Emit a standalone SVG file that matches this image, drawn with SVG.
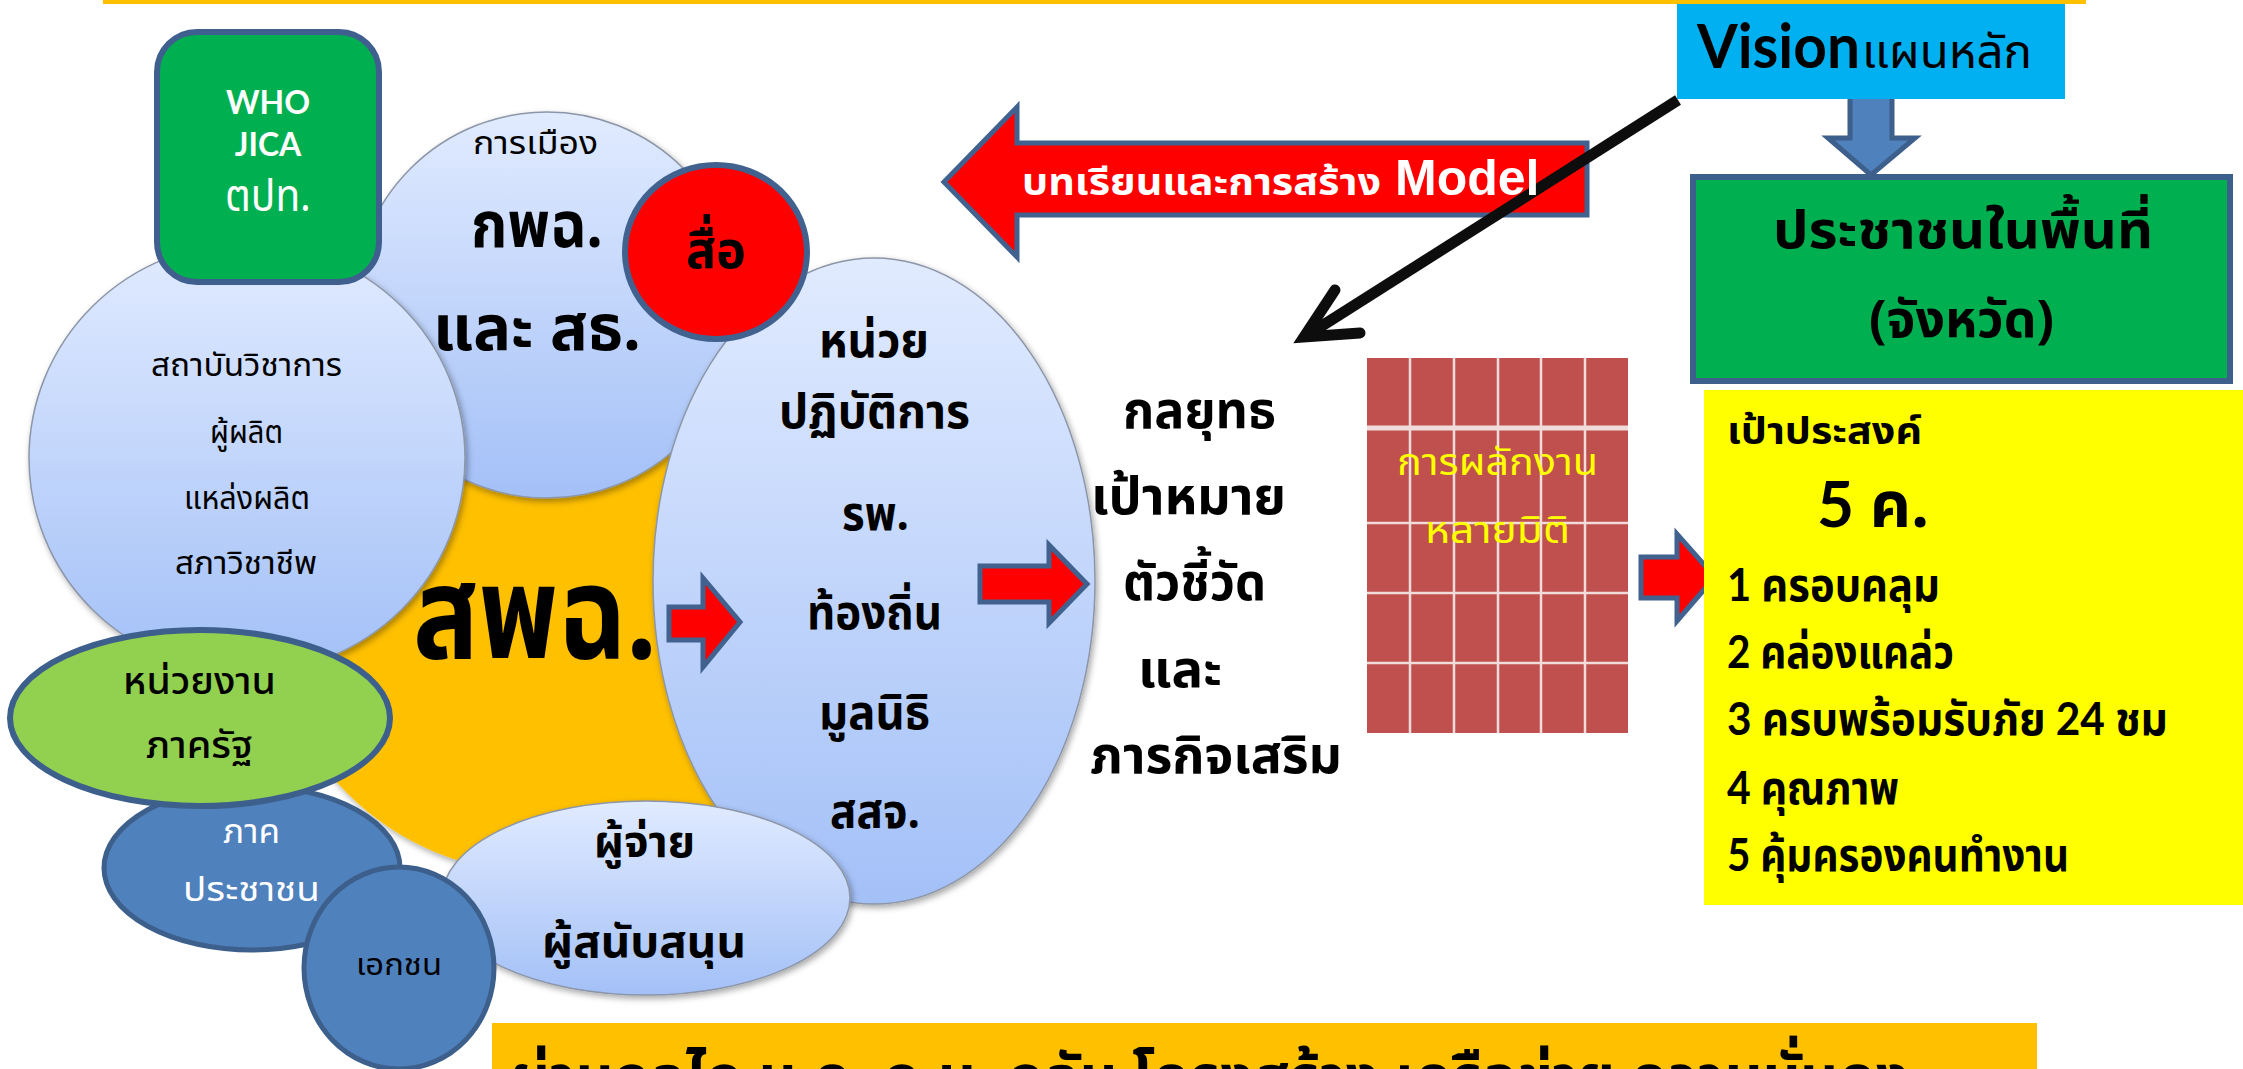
<svg xmlns="http://www.w3.org/2000/svg" width="2243" height="1069" viewBox="0 0 2243 1069">
<defs>
  <linearGradient id="lbg" x1="0" y1="0" x2="0" y2="1">
    <stop offset="0" stop-color="#E1EBFF"/>
    <stop offset="1" stop-color="#A3C0F7"/>
  </linearGradient>
  <filter id="sh" x="-10%" y="-10%" width="120%" height="120%">
    <feDropShadow dx="2" dy="3" stdDeviation="3" flood-color="#000" flood-opacity="0.35"/>
  </filter>
</defs>
<style>
  .th { font-family: "Noto Sans Thai", "Noto Sans Thai UI", "Noto Sans", "DejaVu Sans", sans-serif; }
  .mix { font-family: "Lato", "Noto Sans Thai", "Noto Sans", sans-serif; }
  .arl { font-family: "Liberation Sans", "Noto Sans Thai", "Noto Sans", sans-serif; }
  .b { font-weight: bold; }
  .lb { fill: url(#lbg); stroke: #8C96A8; stroke-width: 1.5; filter: url(#sh); }
  .blue { fill: #4F81BD; stroke: #3D5F8C; stroke-width: 5; }
  .redarrow { fill: #FF0000; stroke: #41618F; stroke-width: 5; stroke-linejoin: miter; }
  .cells line { stroke: #F0DCDB; stroke-width: 2.5; }
</style>

<rect id="topline" x="103" y="0" width="1983" height="4" fill="#FFC000"/>

<g id="node-spc">
  <circle cx="540" cy="600" r="273" fill="#FFC000" filter="url(#sh)"/>
</g>
<g id="node-politics">
  <circle class="lb" cx="547" cy="305" r="193"/>
  <text class="th" x="473" y="154" font-size="32" textLength="125" lengthAdjust="spacingAndGlyphs">การเมือง</text>
  <text class="th b" x="471" y="247" font-size="64" textLength="132" lengthAdjust="spacingAndGlyphs">กพฉ.</text>
  <text class="th b" x="433" y="350" font-size="64" textLength="208" lengthAdjust="spacingAndGlyphs">และ สธ.</text>
</g>
<g id="node-academic">
  <ellipse class="lb" cx="247" cy="458" rx="218" ry="215"/>
  <text class="th" x="151" y="376" font-size="32" textLength="191" lengthAdjust="spacingAndGlyphs">สถาบันวิชาการ</text>
  <text class="th" x="210" y="443" font-size="32" textLength="73" lengthAdjust="spacingAndGlyphs">ผู้ผลิต</text>
  <text class="th" x="184" y="509" font-size="32" textLength="126" lengthAdjust="spacingAndGlyphs">แหล่งผลิต</text>
  <text class="th" x="175" y="574" font-size="32" textLength="142" lengthAdjust="spacingAndGlyphs">สภาวิชาชีพ</text>
</g>
<g id="node-operating">
  <ellipse class="lb" cx="874" cy="581" rx="221" ry="323"/>
  <text class="th b" x="819" y="357" font-size="48" textLength="110" lengthAdjust="spacingAndGlyphs">หน่วย</text>
  <text class="th b" x="779" y="428" font-size="48" textLength="191" lengthAdjust="spacingAndGlyphs">ปฏิบัติการ</text>
  <text class="th b" x="842" y="530" font-size="48" textLength="67" lengthAdjust="spacingAndGlyphs">รพ.</text>
  <text class="th b" x="807" y="629" font-size="48" textLength="135" lengthAdjust="spacingAndGlyphs">ท้องถิ่น</text>
  <text class="th b" x="819" y="729" font-size="48" textLength="111" lengthAdjust="spacingAndGlyphs">มูลนิธิ</text>
  <text class="th b" x="830" y="828" font-size="48" textLength="90" lengthAdjust="spacingAndGlyphs">สสจ.</text>
</g>
<g id="node-spc-label">
  <text class="th b" x="413" y="658" font-size="130" textLength="244" lengthAdjust="spacingAndGlyphs">สพฉ.</text>
</g>
<g id="node-intl">
  <rect x="157" y="32" width="222" height="250" rx="40" fill="#00B050" stroke="#3F5F8F" stroke-width="6"/>
  <text class="mix b" x="268" y="114" font-size="32" fill="#FFFFFF" text-anchor="middle">WHO</text>
  <text class="mix b" x="268" y="156" font-size="32" fill="#FFFFFF" text-anchor="middle">JICA</text>
  <text class="th" x="225" y="211" font-size="44" fill="#FFFFFF" textLength="86" lengthAdjust="spacingAndGlyphs">ตปท.</text>
</g>
<g id="node-media">
  <ellipse cx="716" cy="252" rx="91" ry="87" fill="#FF0000" stroke="#41618F" stroke-width="6"/>
  <text class="th b" x="686" y="268" font-size="52" textLength="60" lengthAdjust="spacingAndGlyphs">สื่อ</text>
</g>
<g id="node-payer">
  <ellipse class="lb" cx="646" cy="898" rx="204" ry="97"/>
  <text class="th b" x="594" y="857" font-size="44" textLength="101" lengthAdjust="spacingAndGlyphs">ผู้จ่าย</text>
  <text class="th b" x="542" y="957" font-size="44" textLength="204" lengthAdjust="spacingAndGlyphs">ผู้สนับสนุน</text>
</g>
<g id="node-public">
  <ellipse class="blue" cx="252" cy="868" rx="148" ry="82"/>
  <text class="th" x="223" y="843" font-size="34" fill="#FFFFFF" textLength="57" lengthAdjust="spacingAndGlyphs">ภาค</text>
  <text class="th" x="183" y="901" font-size="34" fill="#FFFFFF" textLength="137" lengthAdjust="spacingAndGlyphs">ประชาชน</text>
</g>
<g id="node-gov">
  <ellipse cx="200" cy="718" rx="190" ry="88" fill="#92D050" stroke="#3D5F8C" stroke-width="6"/>
  <text class="th" x="123" y="694" font-size="38" font-weight="500" textLength="153" lengthAdjust="spacingAndGlyphs">หน่วยงาน</text>
  <text class="th" x="146" y="758" font-size="38" font-weight="500" textLength="107" lengthAdjust="spacingAndGlyphs">ภาครัฐ</text>
</g>
<g id="node-private">
  <ellipse class="blue" cx="399" cy="968" rx="95" ry="101"/>
  <text class="th" x="356" y="975" font-size="30" textLength="86" lengthAdjust="spacingAndGlyphs">เอกชน</text>
</g>

<g id="node-strategy">
  <text class="th b" x="1123" y="428" font-size="52" textLength="153" lengthAdjust="spacingAndGlyphs">กลยุทธ</text>
  <text class="th b" x="1091" y="514" font-size="52" textLength="195" lengthAdjust="spacingAndGlyphs">เป้าหมาย</text>
  <text class="th b" x="1123" y="600" font-size="52" textLength="143" lengthAdjust="spacingAndGlyphs">ตัวชี้วัด</text>
  <text class="th b" x="1138" y="687" font-size="52" textLength="84" lengthAdjust="spacingAndGlyphs">และ</text>
  <text class="th b" x="1090" y="773" font-size="52" textLength="252" lengthAdjust="spacingAndGlyphs">ภารกิจเสริม</text>
</g>

<g id="node-grid">
  <rect x="1367" y="358" width="261" height="375" fill="#C0504D"/>
  <g class="cells">
    <line x1="1410" y1="358" x2="1410" y2="733"/>
    <line x1="1454" y1="358" x2="1454" y2="733"/>
    <line x1="1498" y1="358" x2="1498" y2="733"/>
    <line x1="1541" y1="358" x2="1541" y2="733"/>
    <line x1="1585" y1="358" x2="1585" y2="733"/>
    <line x1="1367" y1="428" x2="1628" y2="428" style="stroke-width:5"/>
    <line x1="1367" y1="523" x2="1628" y2="523"/>
    <line x1="1367" y1="593" x2="1628" y2="593"/>
    <line x1="1367" y1="663" x2="1628" y2="663"/>
  </g>
  <text class="th" x="1397" y="475" font-size="38" fill="#FFFF00" textLength="201" lengthAdjust="spacingAndGlyphs">การผลักงาน</text>
  <text class="th" x="1425" y="543" font-size="38" fill="#FFFF00" textLength="145" lengthAdjust="spacingAndGlyphs">หลายมิติ</text>
</g>

<g id="connectors">
  <path class="redarrow" d="M944,182 L1017,107 V143 H1587 V215 H1017 V257 Z"/>
  <polyline points="1678,100 1306,336" fill="none" stroke="#0D0D0D" stroke-width="11"/>
  <polyline points="1335,290 1304,337 1360,333" fill="none" stroke="#0D0D0D" stroke-width="11" stroke-linecap="round" stroke-linejoin="miter"/>
  <path class="redarrow" d="M669,607 H703 V578 L740,622 L703,667 V640 H669 Z"/>
  <path class="redarrow" d="M980,566 H1049 V545 L1087,584 L1049,623 V602 H980 Z"/>
  <path class="redarrow" d="M1641,557 H1677 V534 L1715,577 L1677,621 V598 H1641 Z"/>
  <path d="M1850,85 H1892 V138 H1915 L1871,175 L1828,138 H1850 Z" fill="#4F81BD" stroke="#3D5F8C" stroke-width="5"/>
</g>
<g id="label-model">
  <text class="arl b" y="195" fill="#FFFFFF"><tspan class="th" x="1022" font-size="38" textLength="359" lengthAdjust="spacingAndGlyphs">บทเรียนและการสร้าง</tspan><tspan x="1395" font-size="50">Model</tspan></text>
</g>

<g id="node-vision">
  <rect x="1677" y="4" width="388" height="95" fill="#00B0F0"/>
  <text class="mix b" y="68" fill="#000000"><tspan x="1697" font-size="61" textLength="163" lengthAdjust="spacingAndGlyphs">Vision</tspan><tspan class="th" x="1862" font-size="46" font-weight="normal" textLength="170" lengthAdjust="spacingAndGlyphs">แผนหลัก</tspan></text>
</g>
<g id="node-people">
  <rect x="1693" y="177" width="537" height="204" fill="#00B050" stroke="#3D5F8C" stroke-width="6"/>
  <text class="th b" x="1773" y="248" font-size="52" textLength="380" lengthAdjust="spacingAndGlyphs">ประชาชนในพื้นที่</text>
  <text class="th b" x="1869" y="337" font-size="52" textLength="185" lengthAdjust="spacingAndGlyphs">(จังหวัด)</text>
</g>
<g id="node-goals">
  <rect x="1704" y="390" width="539" height="515" fill="#FFFF00"/>
  <text class="th b" x="1727" y="444" font-size="38" textLength="195" lengthAdjust="spacingAndGlyphs">เป้าประสงค์</text>
  <text class="mix b" x="1817" y="527" font-size="64">5 <tspan class="th">ค.</tspan></text>
  <text class="mix b" x="1727" y="601" font-size="46" textLength="213" lengthAdjust="spacingAndGlyphs">1 ครอบคลุม</text>
  <text class="mix b" x="1727" y="668" font-size="46" textLength="227" lengthAdjust="spacingAndGlyphs">2 คล่องแคล่ว</text>
  <text class="mix b" x="1727" y="735" font-size="46" textLength="441" lengthAdjust="spacingAndGlyphs">3 ครบพร้อมรับภัย 24 ชม</text>
  <text class="mix b" x="1727" y="804" font-size="46" textLength="172" lengthAdjust="spacingAndGlyphs">4 คุณภาพ</text>
  <text class="mix b" x="1727" y="871" font-size="46" textLength="342" lengthAdjust="spacingAndGlyphs">5 คุ้มครองคนทำงาน</text>
</g>

<g id="node-banner">
  <rect x="492" y="1023" width="1545" height="60" fill="#FFC000"/>
  <text class="th b" x="510" y="1100" font-size="64" textLength="1400" lengthAdjust="spacingAndGlyphs">ผ่านกลไก ม.ค. ภ.ม. กลับ โครงสร้าง เครือข่าย ความมั่นคง</text>
</g>
</svg>
